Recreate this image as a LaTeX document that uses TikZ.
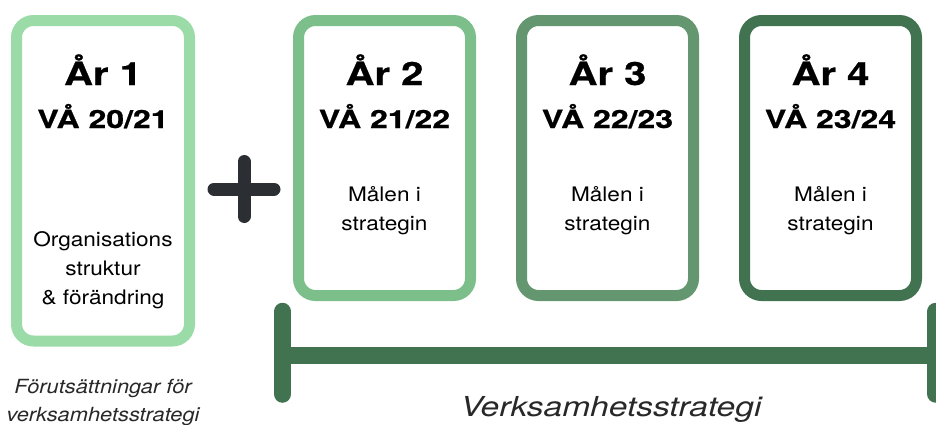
\documentclass[tikz,border=0pt]{standalone}
\usepackage{fontspec}
\setmainfont{TeX Gyre Heros}
\newfontfamily\titlefont[FakeStretch=1.25,BoldFeatures={FakeBold=0.8}]{TeX Gyre Heros}
\newfontfamily\termfont[FakeStretch=1.28,BoldFeatures={FakeBold=0.8}]{TeX Gyre Heros}
\newfontfamily\bodyfont[FakeStretch=1.13]{TeX Gyre Heros}
\newfontfamily\notefont[FakeStretch=1.12]{TeX Gyre Heros}
\newfontfamily\spanfont[FakeStretch=1.22]{TeX Gyre Heros}
\usetikzlibrary{positioning}
\definecolor{yearone}{RGB}{155,219,167}
\definecolor{yeartwo}{RGB}{124,191,138}
\definecolor{yearthree}{RGB}{100,151,111}
\definecolor{yearfour}{RGB}{66,115,80}
\definecolor{plusgray}{RGB}{43,47,51}
\definecolor{notegray}{RGB}{40,40,40}
\tikzset{
	yearbox/.style={draw,line width=11pt,rounded corners=17pt,fill=white,
		minimum width=172pt,minimum height=275pt,inner sep=0pt},
	yeartitle/.style={anchor=base,font=\titlefont\bfseries\fontsize{32}{34}\selectfont},
	yearterm/.style={anchor=base,font=\termfont\bfseries\fontsize{25}{27}\selectfont},
	goal/.style={align=center,font=\bodyfont\fontsize{20}{29}\selectfont},
	note/.style={align=center,text=notegray,font=\notefont\itshape\fontsize{19.5}{28}\selectfont},
	plussign/.style={draw=plusgray,line width=13pt,line cap=round},
	spanbar/.style={draw=yearfour,line width=17.5pt,line cap=round}
}

\begin{document}
\begin{tikzpicture}[x=1pt,y=-1pt]
	\useasboundingbox (0,0) rectangle (936,424);
	
	% year boxes
	\node[yearbox,draw=yearone,minimum width=173pt,minimum height=320.5pt] (b1) at (103,180.75) {};
	\node[yearbox,draw=yeartwo] (b2) at (384.5,158) {};
	\node[yearbox,draw=yearthree] (b3) [right=40pt of b2] {};
	\node[yearbox,draw=yearfour] (b4) [right=40pt of b3] {};
	
	% titles
	\node[yeartitle] (t1) at ([yshift=-70pt]b1.north) {År 1};
	\node[yearterm] (v1) at ([yshift=-113pt]b1.north) {VÅ 20/21};
	\node[yeartitle] (t2) at ([yshift=-70pt]b2.north) {År 2};
	\node[yearterm] (v2) at ([yshift=-113pt]b2.north) {VÅ 21/22};
	\node[yeartitle] (t3) at ([yshift=-70pt]b3.north) {År 3};
	\node[yearterm] (v3) at ([yshift=-113pt]b3.north) {VÅ 22/23};
	\node[yeartitle] (t4) at ([yshift=-70pt]b4.north) {År 4};
	\node[yearterm] (v4) at ([yshift=-113pt]b4.north) {VÅ 23/24};
	
	% contents
	\node[goal] (g1) at ([yshift=-89pt]b1.center) {Organisations\\struktur\\\& förändring};
	\node[goal] (g2) at ([yshift=-53pt]b2.center) {Målen i\\strategin};
	\node[goal] (g3) at ([yshift=-53pt]b3.center) {Målen i\\strategin};
	\node[goal] (g4) at ([yshift=-53pt]b4.center) {Målen i\\strategin};
	
	\node[note] (n1) at (103,402) {Förutsättningar för\\verksamhetsstrategi};
	
	% plus
	\draw[plussign] (214,189) -- (274,189) (244,161.5) -- (244,216.5);
	
	% strategy span
	\coordinate (sl) at (282.5,355);
	\coordinate (sr) at (935.75,355);
	\draw[spanbar] (282.5,311.5) -- (282.5,394);
	\draw[spanbar] (935.75,311.5) -- (935.75,394);
	\draw[spanbar,line width=17pt,line cap=butt] (sl) -- (sr);
	\node[anchor=base,text=notegray,font=\spanfont\itshape\fontsize{27.5}{30}\selectfont] (s) at (611,416) {Verksamhetsstrategi};
\end{tikzpicture}
\end{document}
